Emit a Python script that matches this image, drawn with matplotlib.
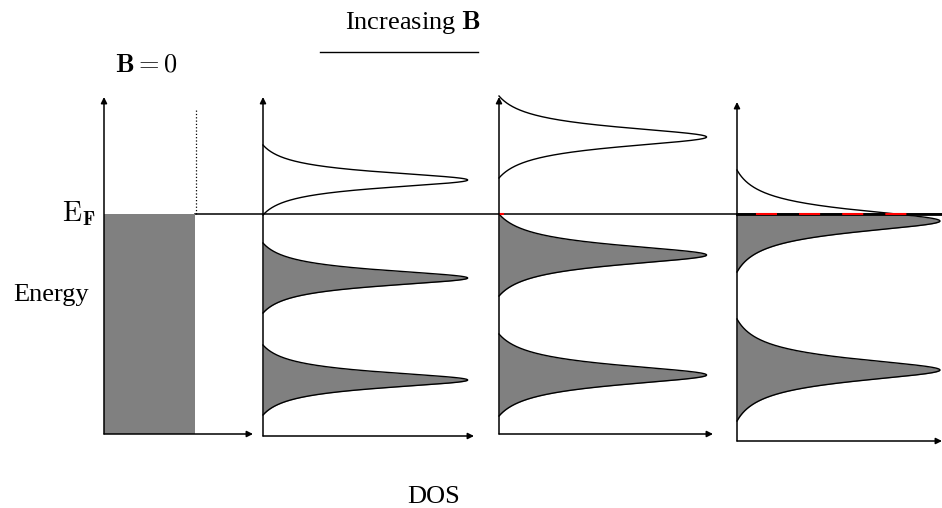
import numpy as np
import matplotlib.pyplot as plt

plt.rcParams['font.family'] = ['Liberation Serif', 'DejaVu Serif']
plt.rcParams['mathtext.fontset'] = 'cm'

W, H = 942, 508

# B = 0 : flat density of states, filled up to E_F
dos_b0 = 0.61
# Landau levels (energy relative to E_F) for increasing B
levels = [[0.34, -0.64, -1.66],
          [0.77, -0.41, -1.61],
          [-0.07, -1.56]]
broadening = [0.10, 0.125, 0.14]
cutoff = [0.35, 0.41, 0.51]
peak_dos = [0.97, 0.97, 0.99]
E_F = 0.0

gray = '#808080'

fig = plt.figure(figsize=(W / 100, H / 100), dpi=100)
bg = fig.add_axes([0, 0, 1, 1])
bg.set_xlim(0, W)
bg.set_ylim(H, 0)
bg.axis('off')


def arrow(ax, p0, p1):
    ax.annotate('', xy=p1, xytext=p0, annotation_clip=False,
                arrowprops=dict(arrowstyle='-|>', color='k', lw=1.1,
                                mutation_scale=9, shrinkA=0, shrinkB=0))


def panel(x0, x1, ybot, ytop):
    ax = fig.add_axes([x0 / W, 1 - 445 / H, (x1 - x0) / W, (445 - 90) / H])
    ax.set_xlim(0, 1)
    ax.set_ylim(-2.31, 1.24)
    ax.axis('off')
    arrow(ax, (0, ybot), (0, ytop))
    arrow(ax, (0, ybot), (1, ybot))
    return ax


def level_shape(e0, g, d, h):
    e = np.linspace(e0 - d, e0 + d, 400)
    lor = 1 / (1 + ((e - e0) / g) ** 2)
    ld = 1 / (1 + (d / g) ** 2)
    return e, h * (lor - ld) / (1 - ld)


# E_F line across all panels
bg.plot([195, W], [214, 214], color='k', lw=1.1, zorder=5)

# B = 0 panel
ax0 = panel(104, 253, -2.20, 1.17)
ax0.fill_betweenx([-2.20, E_F], 0, dos_b0, color=gray, lw=0)
ax0.plot([dos_b0 + 0.007] * 2, [E_F, 1.06], ':', color='k', lw=0.9)

# Landau level panels
spans = [(263, 474, -2.22, 1.17), (499, 713, -2.20, 1.17), (737, 942, -2.27, 1.12)]
axes = []
for i, (x0, x1, yb, yt) in enumerate(spans):
    ax = panel(x0, x1, yb, yt)
    axes.append(ax)
    for e0 in levels[i]:
        e, x = level_shape(e0, broadening[i], cutoff[i], peak_dos[i])
        ax.fill_betweenx(e, 0, x, where=e <= E_F, interpolate=True, color=gray, lw=0)
        ax.plot(x, e, color='k', lw=1.0, clip_on=False)

ax4 = axes[2]
ax4.plot([0, 1], [E_F, E_F], color='k', lw=2.0, clip_on=False)
ax4.plot([0, 0.83], [E_F, E_F], color='red', lw=1.5,
         linestyle=(11.6, (10.1, 10.6)))
axes[1].plot([0, 0.02], [E_F, E_F], color='red', lw=1.5)

# labels
bg.text(146, 66, r'$\mathbf{B} = 0$', fontsize=19, ha='center', va='center')
bg.text(413, 22, r'Increasing $\mathbf{B}$', fontsize=19, ha='center', va='center')
bg.plot([320, 478], [52, 52], color='k', lw=1.0)
bg.text(62, 221, r'$\mathrm{E}_{\mathbf{F}}$', fontsize=20, ha='left', va='baseline')
bg.text(51, 301, 'Energy', fontsize=19, ha='center', va='baseline')
bg.text(434, 503, 'DOS', fontsize=19, ha='center', va='baseline')

fig.savefig('out.png', dpi=100)
